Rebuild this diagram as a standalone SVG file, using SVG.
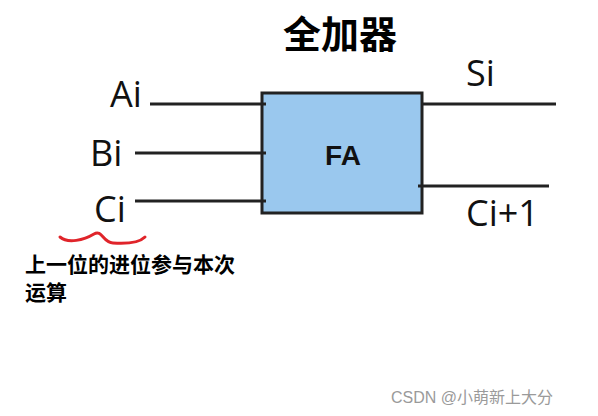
<svg xmlns="http://www.w3.org/2000/svg" width="598" height="416" viewBox="0 0 598 416">
<style>
.wire{stroke:#222;stroke-width:3;fill:none;stroke-linecap:butt}
.lbl{font-family:"Open Sans","Liberation Sans",sans-serif;font-size:36px;fill:#111;font-weight:400}
.cn{font-family:"Noto Sans CJK SC",sans-serif;font-weight:bold;fill:#000}
</style>
<rect width="598" height="416" fill="#fff"/>
<text class="cn" x="340" y="48" font-size="38" text-anchor="middle">全加器</text>
<g id="FA">
<rect x="262" y="93" width="160" height="120" fill="#9ac8ee" stroke="#222" stroke-width="3"/>
<text x="343" y="165" font-family="Liberation Sans,sans-serif" font-weight="bold" font-size="28" text-anchor="middle" fill="#111">FA</text>
</g>
<g id="connectors">
<line class="wire" x1="150" y1="104" x2="266" y2="104"/>
<line class="wire" x1="135" y1="153" x2="266" y2="153"/>
<line class="wire" x1="135" y1="201" x2="266" y2="201"/>
<line class="wire" x1="422" y1="104" x2="556" y2="104"/>
<line class="wire" x1="418" y1="186" x2="549" y2="186"/>
</g>
<g id="labels">
<text class="lbl" x="110" y="107">Ai</text>
<text class="lbl" x="90" y="166">Bi</text>
<text class="lbl" x="94" y="222">Ci</text>
<text class="lbl" x="466" y="86">Si</text>
<text class="lbl" x="466" y="226">Ci+1</text>
</g>
<path d="M60,237 C68,244 84,240 94,234 C102,229 103,243 113,243 C128,244 140,242 145,237" fill="none" stroke="#e0242a" stroke-width="3" stroke-linecap="round"/>
<text class="cn" x="25" y="272" font-size="21">上一位的进位参与本次</text>
<text class="cn" x="25" y="300" font-size="21">运算</text>
<text x="391" y="403" font-family="Liberation Sans,'Noto Sans CJK SC',sans-serif" font-size="16" fill="#9a9a9a">CSDN @小萌新上大分</text>
</svg>
